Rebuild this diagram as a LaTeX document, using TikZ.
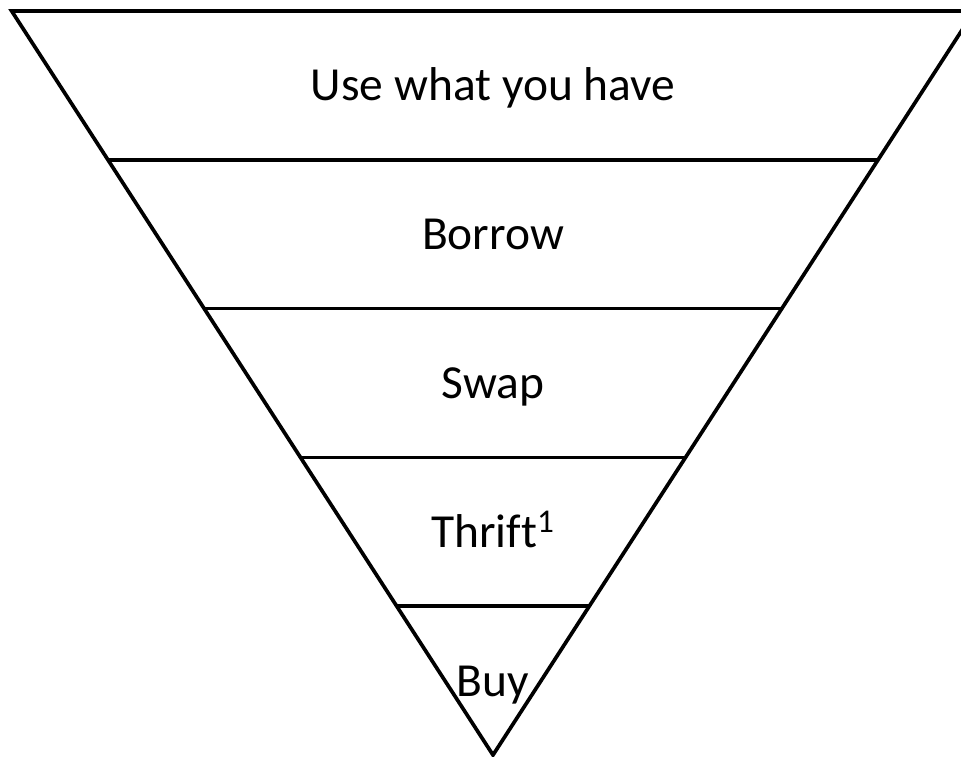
\documentclass[tikz,border=0pt]{standalone}
\usepackage{fontspec}
\setmainfont{Carlito}[Ligatures=NoCommon]
\usetikzlibrary{calc}

\tikzset{
  level/.style={line width=2.1pt},
  lbl/.style={anchor=base, inner sep=0pt, font=\fontsize{27}{32}\selectfont}
}

\begin{document}
\begin{tikzpicture}
       \useasboundingbox (0,0) rectangle (19.22,15.12);
       \clip (0,0) rectangle (19.22,15.12);

       \coordinate (apex) at (9.86,0.02);
       \coordinate (tl) at (0.233,14.9);
       \coordinate (tr) at (19.487,14.9);

       \draw[level] (tl) -- (tr) -- (apex) -- cycle;

       \coordinate (l4) at ($(apex)!0.8!(tl)$);
       \coordinate (r4) at ($(apex)!0.8!(tr)$);
       \coordinate (l3) at ($(apex)!0.6!(tl)$);
       \coordinate (r3) at ($(apex)!0.6!(tr)$);
       \coordinate (l2) at ($(apex)!0.4!(tl)$);
       \coordinate (r2) at ($(apex)!0.4!(tr)$);
       \coordinate (l1) at ($(apex)!0.2!(tl)$);
       \coordinate (r1) at ($(apex)!0.2!(tr)$);

       \draw[level] (l4) -- (r4);
       \draw[level] (l3) -- (r3);
       \draw[level] (l2) -- (r2);
       \draw[level] (l1) -- (r1);

       \node[lbl] (use) at (9.86,13.10) {Use what you have};
       \node[lbl] (borrow) at (9.86,10.12) {Borrow};
       \node[lbl] (swap) at (9.86,7.14) {Swap};
       \node[lbl] (thrift) at (9.86,4.16) {Thrift\textsuperscript{1}};
       \node[lbl] (buy) at (9.86,1.19) {Buy};
    \end{tikzpicture}
\end{document}
